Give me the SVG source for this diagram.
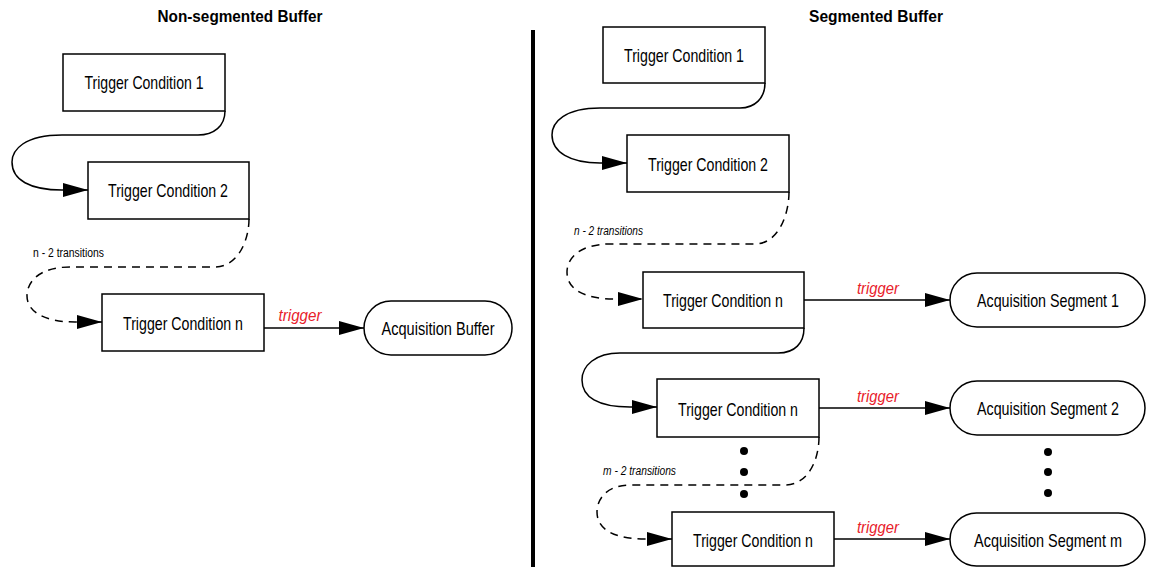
<svg xmlns="http://www.w3.org/2000/svg" width="1149" height="567" viewBox="0 0 1149 567">
<style>
.box{fill:#fff;stroke:#000;stroke-width:1.5}
.lbl{font-family:"Liberation Sans",Arial,sans-serif;font-size:18.5px;fill:#000}
.ttl{font-family:"Liberation Sans",Arial,sans-serif;font-size:17px;font-weight:bold;fill:#000}
.trg{font-family:"Liberation Sans",Arial,sans-serif;font-size:16.5px;font-style:italic;fill:#e8202a}
.tr{font-family:"Liberation Sans",Arial,sans-serif;font-size:12px;fill:#000}
.tri{font-family:"Liberation Sans",Arial,sans-serif;font-size:12px;font-style:italic;fill:#000}
.ln{fill:none;stroke:#000;stroke-width:1.5}
.dash{stroke-dasharray:8,6}
</style>
<defs>
<marker id="ah" markerUnits="userSpaceOnUse" markerWidth="26" markerHeight="16" refX="25" refY="7" orient="auto">
<path d="M0,0 L25,7 L0,14 z" fill="#000"/>
</marker>
</defs>
<rect width="1149" height="567" fill="#fff"/>
<text class="ttl" x="240" y="22" text-anchor="middle" textLength="165" lengthAdjust="spacingAndGlyphs">Non-segmented Buffer</text>
<text class="ttl" x="876" y="22" text-anchor="middle" textLength="134" lengthAdjust="spacingAndGlyphs">Segmented Buffer</text>
<line x1="533" y1="30" x2="533" y2="567" stroke="#000" stroke-width="4"/>
<g id="connectors">
<path class="ln" marker-end="url(#ah)" d="M225,111 C225,126 214,135 198,135 L62,135 C24,135 12,150 12,162 C12,180 30,190 62,190 L88,190"/>
<path class="ln dash" marker-end="url(#ah)" d="M249,219 C249,240 238,267 215,267 L70,267 C40,267 27,281 27,296 C27,312 45,322 75,322 L102,322"/>
<path class="ln" marker-end="url(#ah)" d="M264,328 L364,328"/>
<path class="ln" marker-end="url(#ah)" d="M765,83 C765,98 755,108 740,108 L600,108 C565,108 552,122 552,135 C552,152 570,163 600,163 L627,163"/>
<path class="ln dash" marker-end="url(#ah)" d="M789,192 C789,215 778,244 755,244 L610,244 C580,244 567,258 567,272 C567,290 585,299 615,299 L643,299"/>
<path class="ln" marker-end="url(#ah)" d="M804,328 C804,343 795,353 778,353 L620,353 C595,353 582,366 582,380 C582,397 598,407 630,407 L657,407"/>
<path class="ln dash" marker-end="url(#ah)" d="M819,437 C819,460 808,485 785,485 L630,485 C608,485 597,498 597,512 C597,530 615,539 645,539 L672,539"/>
<path class="ln" marker-end="url(#ah)" d="M804,300 L950,300"/>
<path class="ln" marker-end="url(#ah)" d="M819,408 L950,408"/>
<path class="ln" marker-end="url(#ah)" d="M834,539 L950,539"/>
<text class="trg" x="300" y="321" text-anchor="middle" textLength="43" lengthAdjust="spacingAndGlyphs">trigger</text>
<text class="trg" x="878" y="294" text-anchor="middle" textLength="42" lengthAdjust="spacingAndGlyphs">trigger</text>
<text class="trg" x="878" y="402" text-anchor="middle" textLength="42" lengthAdjust="spacingAndGlyphs">trigger</text>
<text class="trg" x="878" y="533" text-anchor="middle" textLength="42" lengthAdjust="spacingAndGlyphs">trigger</text>
<text class="tr" x="33" y="257" textLength="71" lengthAdjust="spacingAndGlyphs">n - 2 transitions</text>
<text class="tri" x="574" y="235" textLength="69" lengthAdjust="spacingAndGlyphs">n - 2 transitions</text>
<text class="tri" x="603" y="475" textLength="73" lengthAdjust="spacingAndGlyphs">m - 2 transitions</text>
</g>
<g id="dots-mid" fill="#000">
<circle cx="744" cy="451" r="4"/>
<circle cx="744" cy="472" r="4"/>
<circle cx="744" cy="494" r="4"/>
</g>
<g id="dots-right" fill="#000">
<circle cx="1048" cy="452" r="4"/>
<circle cx="1048" cy="472" r="4"/>
<circle cx="1048" cy="493" r="4"/>
</g>
<g id="l-tc1"><rect class="box" x="63" y="54" width="162" height="57"/><text class="lbl" x="144" y="89" text-anchor="middle" textLength="119" lengthAdjust="spacingAndGlyphs">Trigger Condition 1</text></g>
<g id="l-tc2"><rect class="box" x="88" y="162" width="161" height="57"/><text class="lbl" x="168" y="197" text-anchor="middle" textLength="120" lengthAdjust="spacingAndGlyphs">Trigger Condition 2</text></g>
<g id="l-tcn"><rect class="box" x="102" y="294" width="162" height="57"/><text class="lbl" x="183" y="330" text-anchor="middle" textLength="120" lengthAdjust="spacingAndGlyphs">Trigger Condition n</text></g>
<g id="l-acq"><rect class="box" x="364" y="301" width="148" height="54" rx="27"/><text class="lbl" x="438" y="335" text-anchor="middle" textLength="113" lengthAdjust="spacingAndGlyphs">Acquisition Buffer</text></g>
<g id="r-tc1"><rect class="box" x="603" y="27" width="162" height="56"/><text class="lbl" x="684" y="62" text-anchor="middle" textLength="120" lengthAdjust="spacingAndGlyphs">Trigger Condition 1</text></g>
<g id="r-tc2"><rect class="box" x="627" y="135" width="162" height="57"/><text class="lbl" x="708" y="171" text-anchor="middle" textLength="120" lengthAdjust="spacingAndGlyphs">Trigger Condition 2</text></g>
<g id="r-tcn1"><rect class="box" x="643" y="272" width="161" height="56"/><text class="lbl" x="723" y="307" text-anchor="middle" textLength="120" lengthAdjust="spacingAndGlyphs">Trigger Condition n</text></g>
<g id="r-tcn2"><rect class="box" x="657" y="379" width="162" height="58"/><text class="lbl" x="738" y="416" text-anchor="middle" textLength="120" lengthAdjust="spacingAndGlyphs">Trigger Condition n</text></g>
<g id="r-tcn3"><rect class="box" x="672" y="512" width="162" height="54"/><text class="lbl" x="753" y="547" text-anchor="middle" textLength="120" lengthAdjust="spacingAndGlyphs">Trigger Condition n</text></g>
<g id="r-acq1"><rect class="box" x="950" y="273" width="195" height="54" rx="27"/><text class="lbl" x="1048" y="307" text-anchor="middle" textLength="142" lengthAdjust="spacingAndGlyphs">Acquisition Segment 1</text></g>
<g id="r-acq2"><rect class="box" x="950" y="381" width="195" height="54" rx="27"/><text class="lbl" x="1048" y="415" text-anchor="middle" textLength="142" lengthAdjust="spacingAndGlyphs">Acquisition Segment 2</text></g>
<g id="r-acqm"><rect class="box" x="950" y="513" width="195" height="53" rx="26.5"/><text class="lbl" x="1048" y="547" text-anchor="middle" textLength="148" lengthAdjust="spacingAndGlyphs">Acquisition Segment m</text></g>
</svg>
